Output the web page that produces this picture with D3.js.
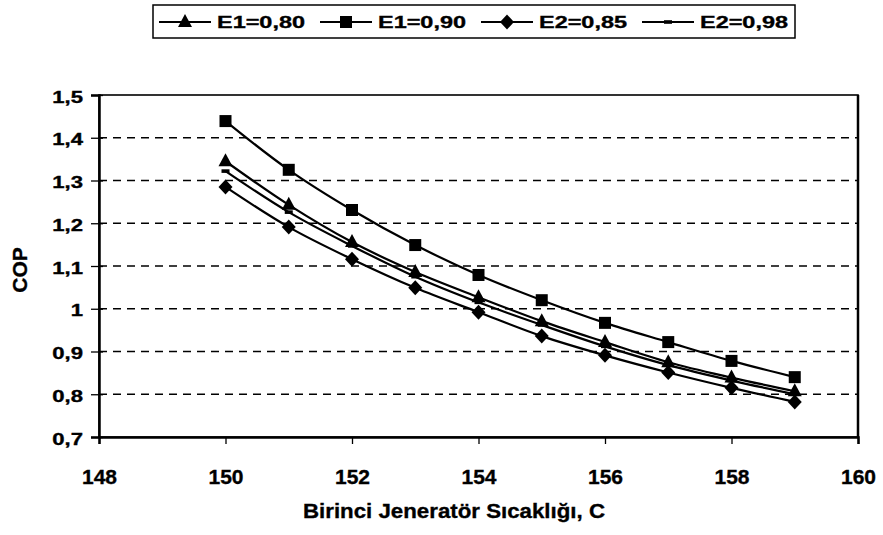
<!DOCTYPE html>
<html>
<head>
<meta charset="utf-8">
<script src="https://cdn.jsdelivr.net/npm/d3@7"></script>
<style>
  html, body { margin: 0; padding: 0; background: #fff; }
  svg { display: block; font-family: "Liberation Sans", Arial, sans-serif; font-weight: bold; }
  svg text { stroke: #000; stroke-width: 0.35px; fill: #000; }
</style>
</head>
<body>
<svg id="chart" width="883" height="535"></svg>
<script>
// ---- data ----
const temps = [150, 151, 152, 153, 154, 155, 156, 157, 158, 159];
const e1_080 = [1.345, 1.243, 1.156, 1.086, 1.027, 0.971, 0.922, 0.875, 0.839, 0.807];
const e1_090 = [1.439, 1.325, 1.231, 1.149, 1.079, 1.020, 0.967, 0.922, 0.878, 0.840];
const e2_085 = [1.285, 1.191, 1.116, 1.049, 0.992, 0.936, 0.891, 0.851, 0.815, 0.782];
const e2_098 = [1.322, 1.226, 1.147, 1.075, 1.015, 0.962, 0.912, 0.868, 0.832, 0.800];
const seriesNames = ["E1=0,80", "E1=0,90", "E2=0,85", "E2=0,98"];
const seriesMarkers = ["triangle", "square", "diamond", "dash"];
const xTicks = [148, 150, 152, 154, 156, 158, 160];
const yTicks = [0.7, 0.8, 0.9, 1.0, 1.1, 1.2, 1.3, 1.4, 1.5];
const yTickLabels = ["0,7", "0,8", "0,9", "1", "1,1", "1,2", "1,3", "1,4", "1,5"];
const gridValues = [0.8, 0.9, 1.0, 1.1, 1.2, 1.3, 1.4];
const xTitle = "Birinci Jeneratör Sıcaklığı,  C";
const yTitle = "COP";

const seriesValues = [e1_080, e1_090, e2_085, e2_098];
const series = seriesNames.map((name, i) => ({
  name, marker: seriesMarkers[i],
  points: temps.map((t, j) => ({ x: t, y: seriesValues[i][j] }))
}));

// ---- layout ----
const svg = d3.select("#chart");
const L = 99, R = 858, T = 95, B = 437;
const x = d3.scaleLinear().domain([148, 160]).range([L, R]);
const y = d3.scaleLinear().domain([0.7, 1.5]).range([B, T]);

svg.append("rect").attr("width", 883).attr("height", 535).attr("fill", "#fff");

// gridlines
svg.append("g").selectAll("line").data(gridValues).join("line")
  .attr("x1", L).attr("x2", R)
  .attr("y1", d => y(d)).attr("y2", d => y(d))
  .attr("stroke", "#000").attr("stroke-width", 1.6)
  .attr("stroke-dasharray", "8,6");

// plot frame
svg.append("rect").attr("x", L).attr("y", T).attr("width", R - L).attr("height", B - T)
  .attr("fill", "none").attr("stroke", "#000").attr("stroke-width", 1.6);
svg.append("line").attr("x1", R).attr("x2", R).attr("y1", T).attr("y2", B)
  .attr("stroke", "#000").attr("stroke-width", 2.5);

// y axis
const yAxis = svg.append("g").attr("transform", `translate(${L},0)`)
  .call(d3.axisLeft(y).tickValues(yTicks).tickFormat((d, i) => yTickLabels[i]).tickSize(8));
yAxis.select(".domain").attr("stroke", "#000").attr("stroke-width", 2.5);
yAxis.selectAll(".tick line").attr("x1", 4).attr("x2", -8).attr("stroke-width", 1.3);
yAxis.selectAll(".tick text")
  .attr("x", null).attr("dy", null)
  .attr("transform", "translate(-16,7) scale(1.3,1)")
  .attr("text-anchor", "end")
  .attr("font-size", 17).attr("font-weight", "bold")
  .attr("font-family", '"Liberation Sans", Arial, sans-serif').attr("fill", "#000");

// x axis
const xAxis = svg.append("g").attr("transform", `translate(0,${B})`)
  .call(d3.axisBottom(x).tickValues(xTicks).tickFormat(d3.format("d")).tickSize(7));
xAxis.select(".domain").attr("stroke", "#000").attr("stroke-width", 2.5);
xAxis.selectAll(".tick line").attr("stroke-width", 1.3);
xAxis.selectAll(".tick text")
  .attr("y", 47).attr("dy", null)
  .attr("font-size", 21).attr("font-weight", "bold")
  .attr("font-family", '"Liberation Sans", Arial, sans-serif').attr("fill", "#000");

// axis titles
svg.append("text").attr("x", 303).attr("y", 518)
  .attr("font-size", 21).attr("textLength", 302).attr("lengthAdjust", "spacingAndGlyphs")
  .text(xTitle);
svg.append("text").attr("transform", `translate(27,${(T + B) / 2 + 4}) rotate(-90)`)
  .attr("text-anchor", "middle").attr("font-size", 21).text(yTitle);

// markers
function drawMarker(g, type, cx, cy) {
  if (type === "square") {
    g.append("rect").attr("x", cx - 6).attr("y", cy - 6).attr("width", 12).attr("height", 12).attr("fill", "#000");
  } else if (type === "triangle") {
    g.append("path").attr("d", `M${cx},${cy - 8}L${cx + 7},${cy + 5}L${cx - 7},${cy + 5}Z`).attr("fill", "#000");
  } else if (type === "diamond") {
    g.append("path").attr("d", `M${cx},${cy - 7.5}L${cx + 7},${cy}L${cx},${cy + 7.5}L${cx - 7},${cy}Z`).attr("fill", "#000");
  } else if (type === "dash") {
    g.append("rect").attr("x", cx - 4).attr("y", cy - 1.8).attr("width", 8).attr("height", 3.6).attr("fill", "#000");
  }
}

const line = d3.line().x(d => x(d.x)).y(d => y(d.y)).curve(d3.curveCatmullRom.alpha(0.5));
const plot = svg.append("g");
series.forEach(s => {
  plot.append("path").attr("d", line(s.points))
    .attr("fill", "none").attr("stroke", "#000").attr("stroke-width", 2.2);
});
series.forEach(s => {
  const g = plot.append("g");
  s.points.forEach(p => drawMarker(g, s.marker, x(p.x), y(p.y)));
});

// legend
const lg = svg.append("g");
const legX0 = 153, legX1 = 795, legY0 = 5, legY1 = 38;
lg.append("rect").attr("x", legX0).attr("y", legY0).attr("width", legX1 - legX0).attr("height", legY1 - legY0)
  .attr("fill", "#fff").attr("stroke", "#000").attr("stroke-width", 1.5);
series.forEach((s, i) => {
  const lx = 159 + 161 * i, ly = 22;
  lg.append("line").attr("x1", lx).attr("x2", lx + 52).attr("y1", ly).attr("y2", ly)
    .attr("stroke", "#000").attr("stroke-width", 2);
  drawMarker(lg, s.marker, lx + 26, ly);
  lg.append("text").attr("x", lx + 58).attr("y", 28)
    .attr("font-size", 17).attr("textLength", 88).attr("lengthAdjust", "spacingAndGlyphs")
    .text(s.name);
});
</script>
</body>
</html>
